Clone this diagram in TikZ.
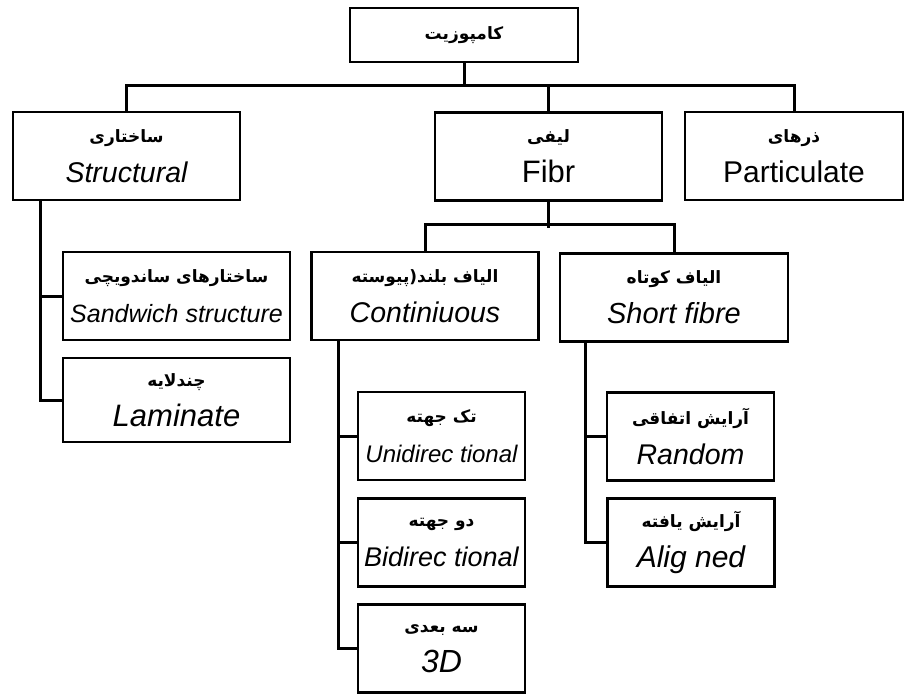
\documentclass[tikz,border=0pt]{standalone}
\usepackage{fontspec}
\setmainfont{Liberation Sans}
\newfontfamily\arabicfont[Script=Arabic]{DejaVu Sans}
\TeXXeTstate=1
\newcommand{\fa}[1]{{\arabicfont\bfseries\fontsize{17}{20}\selectfont\beginR #1\endR}}
\newcommand{\en}[1]{{\itshape #1}}
\tikzset{
  box/.style={draw, line width=2.8pt, rectangle, inner sep=0pt, align=center,
    font=\fontsize{28.5}{40}\selectfont},
  bigbox/.style={box, minimum width=227pt, minimum height=88pt},
  smallbox/.style={box, minimum width=167pt, minimum height=88pt},
  conn/.style={line width=3pt}
}
\begin{document}
\begin{tikzpicture}[x=1pt, y=-1pt]
    \useasboundingbox (0,0) rectangle (904,695);
    % Top box
    \node[box, minimum width=228pt, minimum height=54pt] (root) at (464,35) {\fa{کامپوزیت}};
    % First level
    \node[bigbox] (structural) at (126.5,156) {\fa{ساختاری}\\\en{Structural}};
    \node[bigbox, font=\fontsize{31}{40}\selectfont] (fibr) at (548.5,156.5) {\fa{لیفی}\\Fibr};
    \node[bigbox, minimum width=218pt, font=\fontsize{30}{40}\selectfont] (particulate) at (794,156) {\fa{ذرهای}\\Particulate};
    % Structural children
    \node[bigbox, font=\fontsize{25}{40}\selectfont] (sandwich) at (176.5,296) {\fa{ساختارهای ساندویچی}\\\en{Sandwich structure}};
    \node[bigbox, minimum height=84pt, font=\fontsize{31}{40}\selectfont] (laminate) at (176.5,400) {\fa{چندلایه}\\\en{Laminate}};
    % Fibre children
    \node[bigbox] (continuous) at (425,296) {\fa{الیاف بلند(پیوسته}\\\en{Continiuous}};
    \node[bigbox, minimum width=228pt, font=\fontsize{29}{40}\selectfont] (short) at (674,297.5) {\fa{الیاف کوتاه}\\\en{Short fibre}};
    % Continuous children
    \node[smallbox, font=\fontsize{24}{40}\selectfont] (uni) at (441.5,436) {\fa{تک جهته}\\\en{Unidirec tional}};
    \node[smallbox, font=\fontsize{27}{40}\selectfont] (bi) at (441.5,542.5) {\fa{دو جهته}\\\en{Bidirec tional}};
    \node[smallbox, font=\fontsize{32}{40}\selectfont] (threed) at (441.5,648.5) {\fa{سه بعدی}\\\en{3D}};
    % Short fibre children
    \node[smallbox] (random) at (690.5,436.5) {\fa{آرایش اتفاقی}\\\en{Random}};
    \node[smallbox, font=\fontsize{30}{40}\selectfont] (aligned) at (691,542.5) {\fa{آرایش یافته}\\\en{Alig ned}};
    % Top bus
    \coordinate (bus) at (0,86);
    \draw[conn] (root.south) -- (root.south |- bus);
    \draw[conn] (structural.north) |- (bus -| particulate.north) -- (particulate.north);
    \draw[conn] (fibr.north) -- (fibr.north |- bus);
    % Structural trunk
    \coordinate (strunk) at ([xshift=29pt]structural.south west);
    \draw[conn] (strunk) |- (laminate.west);
    \draw[conn] (strunk |- sandwich.west) -- (sandwich.west);
    % Fibre bus
    \draw[conn] (fibr.south) -- ++(0,26);
    \draw[conn] (continuous.north) -- ++(0,-26) -| (short.north);
    % Continuous trunk
    \coordinate (ctrunk) at ([xshift=28pt]continuous.south west);
    \draw[conn] (ctrunk) |- (threed.west);
    \draw[conn] (ctrunk |- uni.west) -- (uni.west);
    \draw[conn] (ctrunk |- bi.west) -- (bi.west);
    % Short fibre trunk
    \coordinate (strunkb) at ([xshift=27pt]short.south west);
    \draw[conn] (strunkb) |- (aligned.west);
    \draw[conn] (strunkb |- random.west) -- (random.west);
\end{tikzpicture}
\end{document}
